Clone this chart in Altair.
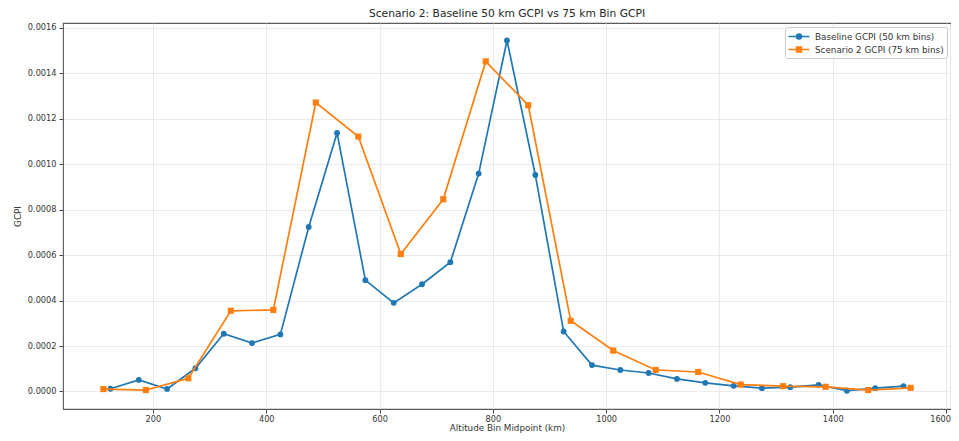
import altair as alt
import pandas as pd

# ---- data ----
base_x = [125, 175, 225, 275, 325, 375, 425, 475, 525, 575, 625, 675, 725, 775,
          825, 875, 925, 975, 1025, 1075, 1125, 1175, 1225, 1275, 1325, 1375,
          1425, 1475, 1525]
base_y = [0.0000117, 0.0000508, 0.0000110, 0.000102, 0.000254, 0.000213, 0.000251,
          0.000724, 0.001138, 0.000490, 0.000390, 0.000472, 0.000569, 0.000959,
          0.001545, 0.000953, 0.000264, 0.000116, 0.0000943, 0.0000812, 0.0000552,
          0.0000378, 0.0000248, 0.0000145, 0.0000190, 0.0000290, 0.0000030,
          0.0000145, 0.0000232]

scen_x = [112.5, 187.5, 262.5, 337.5, 412.5, 487.5, 562.5, 637.5, 712.5, 787.5,
          862.5, 937.5, 1012.5, 1087.5, 1162.5, 1237.5, 1312.5, 1387.5, 1462.5,
          1537.5]
scen_y = [0.0000104, 0.0000060, 0.0000580, 0.000355, 0.000359, 0.001272, 0.001122,
          0.000605, 0.000846, 0.001453, 0.001260, 0.000311, 0.000180, 0.0000943,
          0.0000856, 0.0000304, 0.0000232, 0.0000204, 0.0000060, 0.0000160]

names = ["Baseline GCPI (50 km bins)", "Scenario 2 GCPI (75 km bins)"]
colors = ["#1f77b4", "#ff7f0e"]
x_ticks = [200, 400, 600, 800, 1000, 1200, 1400, 1600]
y_ticks = [0.0, 0.0002, 0.0004, 0.0006, 0.0008, 0.0010, 0.0012, 0.0014, 0.0016]

df = pd.concat([
    pd.DataFrame({"alt": base_x, "gcpi": base_y, "series": names[0]}),
    pd.DataFrame({"alt": scen_x, "gcpi": scen_y, "series": names[1]}),
], ignore_index=True)

FONT = "DejaVu Sans"

last_tick = "datum.value == 1600"
x_enc = alt.X("alt:Q", scale=alt.Scale(domain=[41.25, 1608.75], nice=False, zero=False),
              axis=alt.Axis(values=x_ticks, format="d", title="Altitude Bin Midpoint (km)",
                            labelAlign={"condition": {"test": last_tick, "value": "right"},
                                        "value": "center"},
                            labelOffset={"condition": {"test": last_tick, "value": 4.5},
                                         "value": 0}))
y_enc = alt.Y("gcpi:Q", scale=alt.Scale(domain=[-0.0000773, 0.001622], nice=False, zero=False),
              axis=alt.Axis(values=y_ticks, format=".4f", title="GCPI"))

base = alt.Chart(df).encode(x=x_enc, y=y_enc)

layers = []
shapes = ["circle", "square"]
sizes = [34, 38]
for name, col, shp, sz in zip(names, colors, shapes, sizes):
    sub = base.transform_filter(alt.datum.series == name)
    layers.append(sub.mark_line(strokeWidth=1.7, color=col))
    layers.append(sub.mark_point(filled=True, shape=shp, size=sz, opacity=1, color=col))

# legend symbols: a line with a (filled-looking) marker
circ_path = ("M-1.75,0L1.75,0 "
             "M-0.4,0A0.4,0.4,0,1,1,0.4,0A0.4,0.4,0,1,1,-0.4,0Z "
             "M-0.15,0A0.15,0.15,0,1,1,0.15,0A0.15,0.15,0,1,1,-0.15,0Z")
sq_path = ("M-1.75,0L1.75,0 "
           "M-0.4,-0.4L0.4,-0.4L0.4,0.4L-0.4,0.4Z "
           "M-0.15,-0.15L0.15,-0.15L0.15,0.15L-0.15,0.15Z")

leg = alt.Legend(title=None, orient="top-right", offset=4, padding=2.5,
                 symbolSize=144, symbolOpacity=1, symbolStrokeWidth=1.7,
                 symbolOffset=4.5, labelOffset=9, rowPadding=0,
                 labelFont=FONT, labelFontSize=8.8, labelColor="#333333",
                 strokeColor="#cccccc", fillColor="rgba(255,255,255,0.8)",
                 cornerRadius=2)

legend_layer = base.mark_point(filled=False, opacity=0, size=144).encode(
    color=alt.Color("series:N", scale=alt.Scale(domain=names, range=colors), legend=leg),
    shape=alt.Shape("series:N", scale=alt.Scale(domain=names, range=[circ_path, sq_path]), legend=leg),
)

chart = alt.layer(*layers, legend_layer).properties(
    width=888, height=386,
    autosize=alt.AutoSizeParams(type="none"),
    padding={"left": 55, "top": 15, "right": 0, "bottom": 24},
    title=alt.Title("Scenario 2: Baseline 50 km GCPI vs 75 km Bin GCPI",
                    font=FONT, fontSize=10.7, fontWeight="normal", color="#262626",
                    anchor="middle", frame="group", offset=3),
).configure_view(
    stroke="#5a5a5a", strokeWidth=1.1
).configure_axis(
    labelFont=FONT, labelFontSize=8.2, labelColor="#333333",
    titleFont=FONT, titleFontSize=8.8, titleColor="#333333", titleFontWeight="normal",
    domain=False, tickColor="#444444", tickSize=4, tickWidth=1,
    gridColor="#e6e6e6", gridWidth=0.8, labelPadding=2,
).configure_axisY(
    titlePadding=5, labelPadding=3
).configure_axisX(
    titlePadding=1.5
)

chart.save("out.html", embed_options={"renderer": "svg", "actions": False})
